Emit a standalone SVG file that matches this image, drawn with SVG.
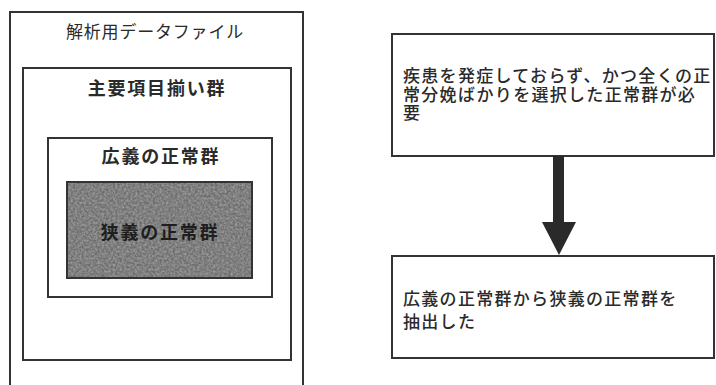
<svg xmlns="http://www.w3.org/2000/svg" width="716" height="385" viewBox="0 0 716 385">
<style>
.box{fill:none;stroke:#333;stroke-width:2}
.t{font-family:"Noto Sans CJK JP","Noto Sans CJK SC",sans-serif;fill:#2a2a2a}
.title{font-size:17px;text-anchor:middle;letter-spacing:0.8px}
.btitle{font-size:18px;font-weight:bold;text-anchor:middle;letter-spacing:1.8px}
.body{font-size:17px;letter-spacing:1.3px;font-weight:500}
</style>
<defs>
<filter id="noise" x="0" y="0" width="100%" height="100%">
<feTurbulence type="fractalNoise" baseFrequency="0.45" numOctaves="2" seed="3" result="n"/>
<feColorMatrix in="n" type="matrix" values="0 0 0 0 0.42  0 0 0 0 0.42  0 0 0 0 0.42  0 0 0 -1.6 1.2" result="m"/>
<feComposite in="m" in2="SourceGraphic" operator="in"/>
</filter>
</defs>
<rect width="716" height="385" fill="#fff"/>
<g id="data-file">
<rect class="box" x="10" y="12" width="293" height="380"/>
<text class="t title" x="155" y="38">解析用データファイル</text>
</g>
<g id="main-items">
<rect class="box" x="23" y="68" width="268" height="292"/>
<text class="t btitle" x="157" y="95">主要項目揃い群</text>
</g>
<g id="broad-normal">
<rect class="box" x="48" y="138" width="224" height="159"/>
<text class="t btitle" x="161" y="163">広義の正常群</text>
</g>
<g id="narrow-normal">
<rect x="67" y="182" width="185" height="96" fill="#6b6b6b" stroke="#333" stroke-width="2"/>
<rect x="68" y="183" width="183" height="94" fill="#bbb" filter="url(#noise)" opacity="0.8"/>
<text class="t btitle" x="160" y="239" style="fill:#1e1e1e">狭義の正常群</text>
</g>
<g id="need">
<rect class="box" x="392" y="34" width="322" height="122"/>
<text class="t body" x="403" y="82">疾患を発症しておらず、かつ全くの正</text>
<text class="t body" x="403" y="100.5">常分娩ばかりを選択した正常群が必</text>
<text class="t body" x="403" y="119">要</text>
</g>
<g id="extract">
<rect class="box" x="392" y="256" width="322" height="102"/>
<text class="t body" x="403" y="305" letter-spacing="2.5">広義の正常群から狭義の正常群を</text>
<text class="t body" x="403" y="328" letter-spacing="2.5">抽出した</text>
</g>
<g id="connectors">
<path d="M553,156 H564 V222 H576 L559,255 L542,222 H553 Z" fill="#2a2a2a"/>
</g>
</svg>
